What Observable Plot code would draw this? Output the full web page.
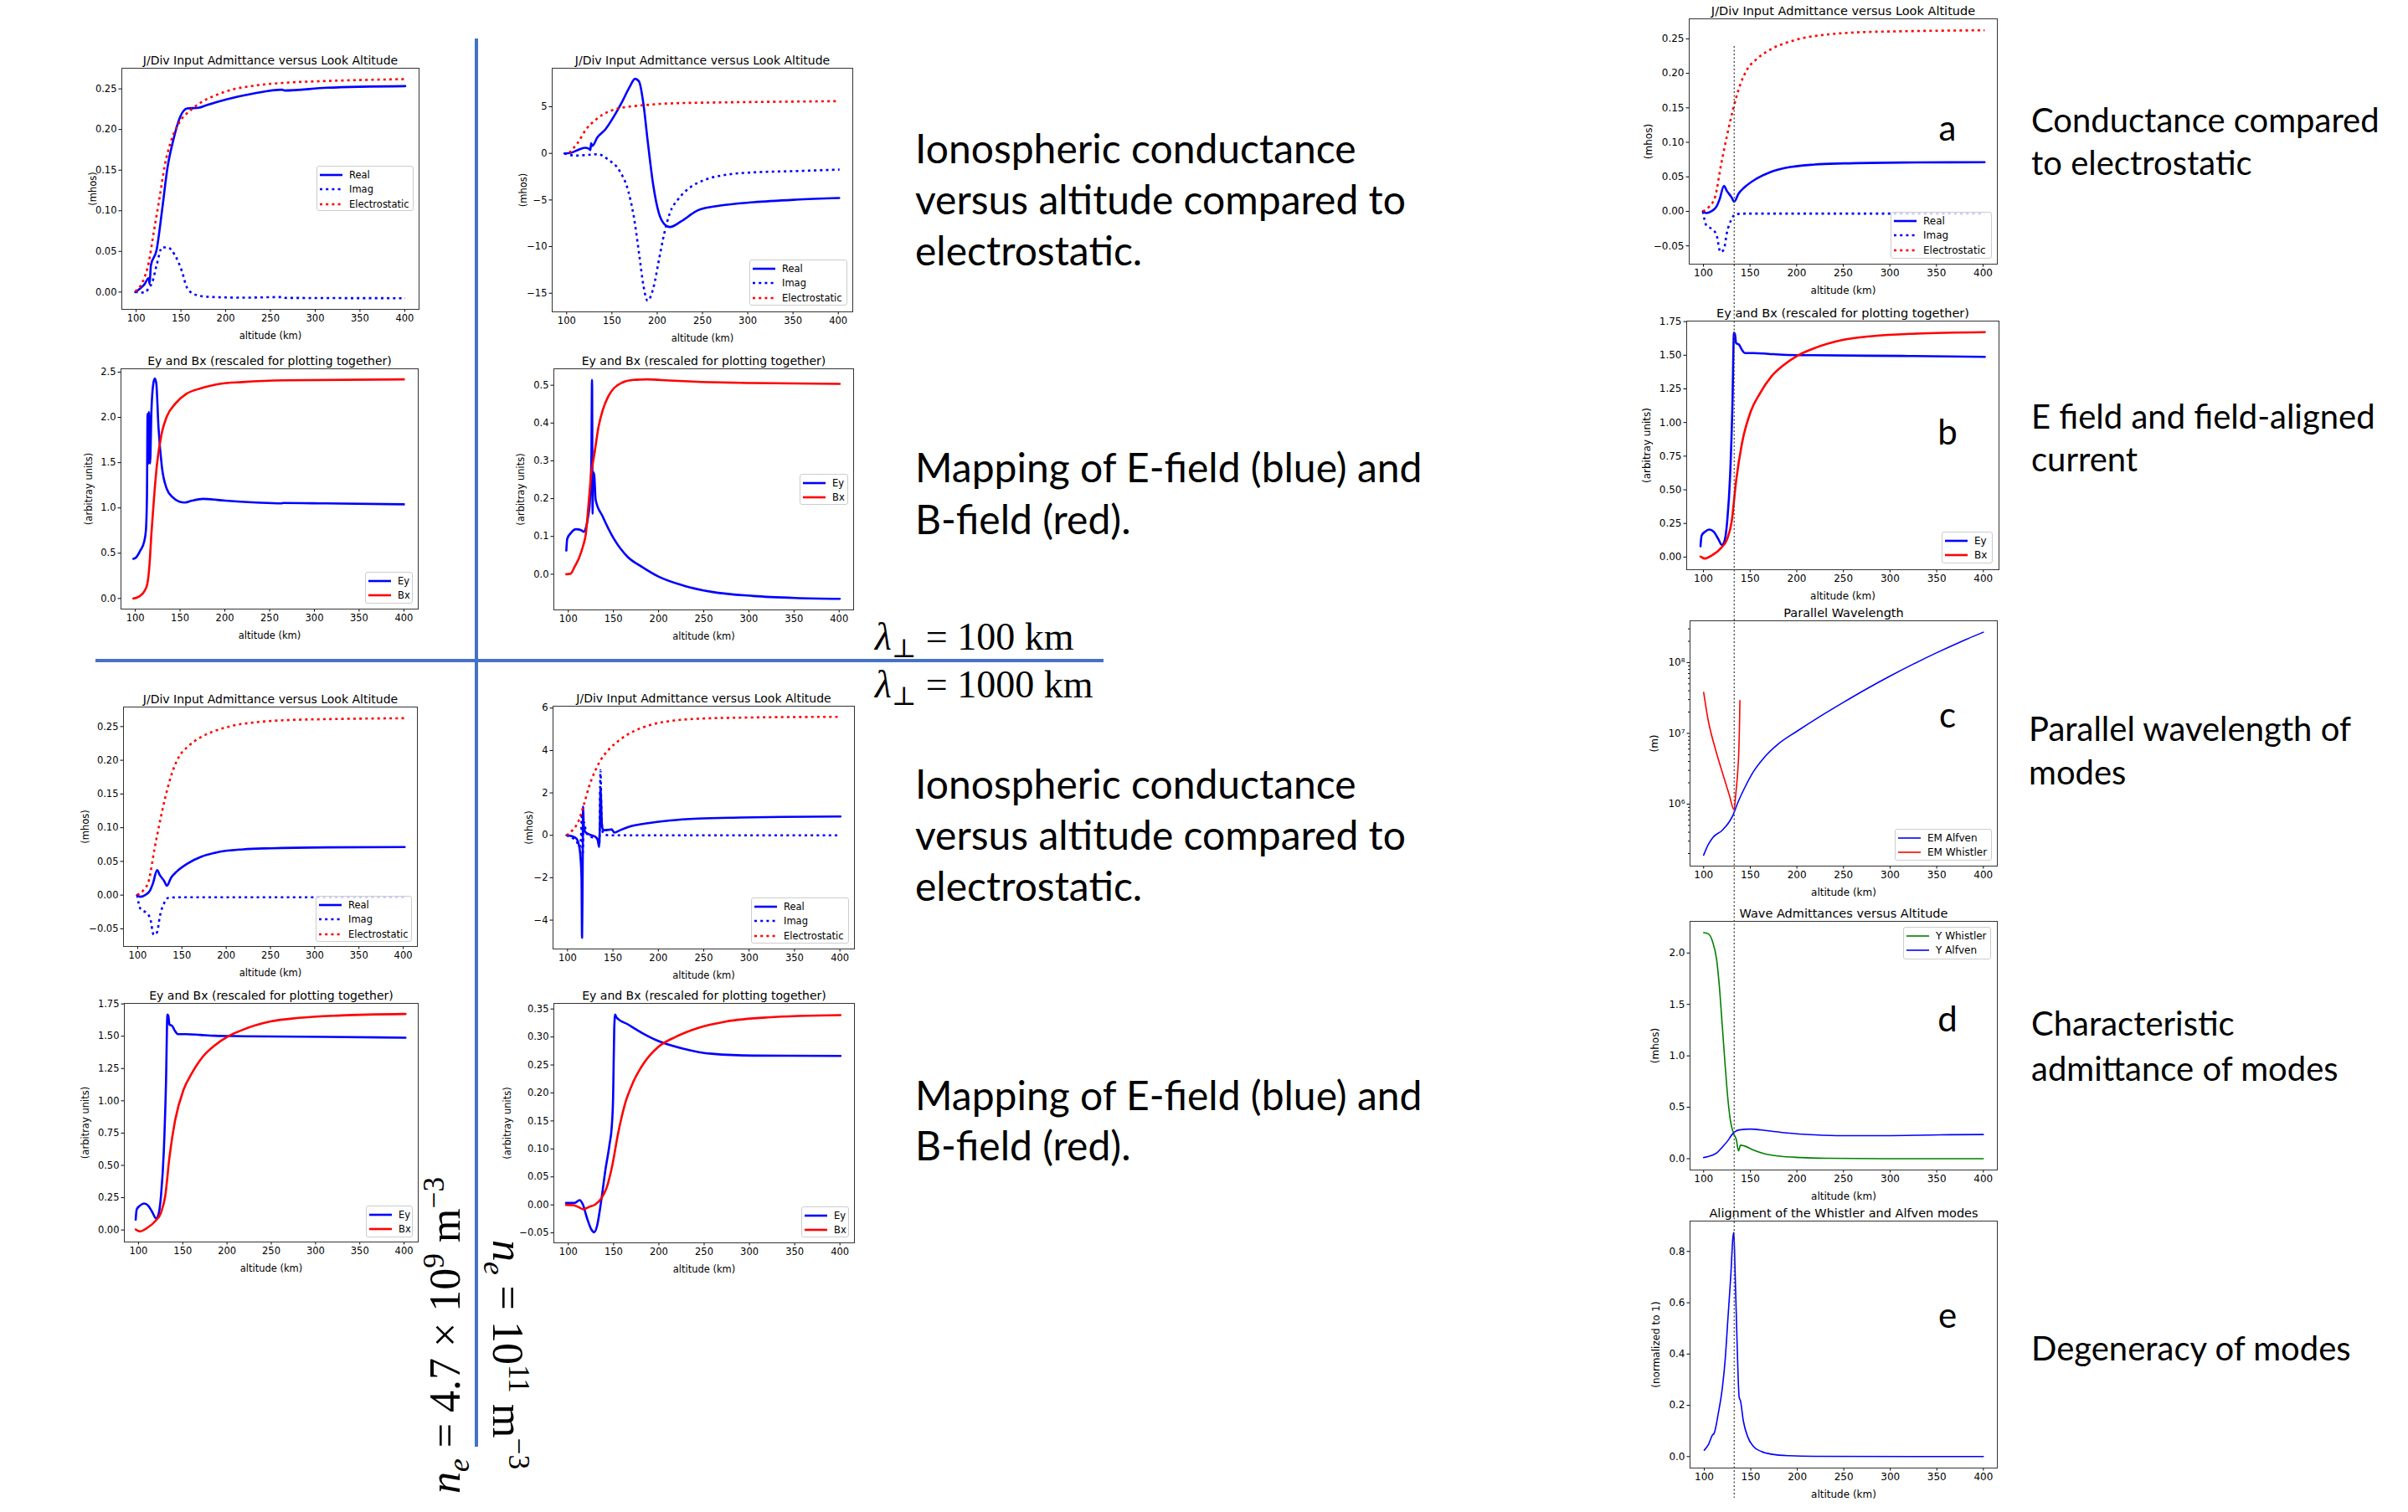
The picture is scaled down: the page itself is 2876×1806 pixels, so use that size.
<!DOCTYPE html>
<html><head><meta charset="utf-8">
<script src="https://cdn.jsdelivr.net/npm/d3@7"></script>
<script src="https://cdn.jsdelivr.net/npm/@observablehq/plot@0.6"></script>
<style>
html,body{margin:0;padding:0;background:#fff;}
#page{position:relative;width:2876px;height:1806px;overflow:hidden;background:#fff;}
.pnl{position:absolute;}
.pnl svg{display:block;max-width:none !important;}
.leg{position:absolute;box-sizing:border-box;background:rgba(255,255,255,0.8);border:1px solid #cccccc;border-radius:3px;font-family:"DejaVu Sans",sans-serif;font-size:11.5px;color:#000;padding-top:1px;}
.leg .row{display:flex;align-items:center;height:17.5px;padding-left:3px;white-space:nowrap;}
.leg svg{margin-right:8px;flex:none;}
.txt{position:absolute;font-family:Lato,"Open Sans",sans-serif;color:#000;white-space:nowrap;}
.math{position:absolute;font-family:"Liberation Serif","DejaVu Serif",serif;color:#000;white-space:nowrap;}
.sep{position:absolute;background:#4472c4;}
.sup{font-size:68%;position:relative;top:-0.55em;}
.sub{font-size:68%;position:relative;top:0.3em;}
</style></head><body><div id="page"></div>
<script>
// ---------------- DATA ----------------
const xTicks = [100, 150, 200, 250, 300, 350, 400];

// Top-left (λ=100 km, n_e=4.7e9): admittance
const p1Real = [[99,0],[104,0.004],[108.7,0.0086],[114,0.017],[115,0.010],[116.5,0.033],[122.8,0.0515],[129,0.101],[135,0.153],[141.5,0.187],[149.3,0.216],[157,0.226],[169.6,0.2267],[179,0.230],[200.8,0.237],[232,0.2445],[263,0.249],[266,0.248],[313,0.2514],[400.6,0.2534]];
const p1Imag = [[99,0],[110,-0.0007],[114,0.005],[118,0.012],[122.8,0.0326],[129,0.055],[135,0.055],[143,0.046],[151,0.026],[157,0.005],[166.5,-0.0034],[179,-0.0058],[219.6,-0.0069],[263,-0.0062],[266,-0.0072],[400.6,-0.0076]];
const p1Elec = [[99,0.0007],[107,0.012],[114,0.036],[119.7,0.074],[126,0.115],[132,0.156],[138.4,0.184],[147.8,0.208],[160,0.223],[172.7,0.2335],[188.4,0.242],[207,0.249],[232,0.254],[266,0.2575],[313,0.2597],[400.6,0.262]];
const p1Ticks = [0, 0.05, 0.10, 0.15, 0.20, 0.25];

// Top-middle: admittance
const p2Real = [[97.5,0],[104.6,0.06],[112.3,0.36],[120,0.6],[124.7,0.5],[126.2,0.36],[127,1.1],[128.3,0.8],[133.8,1.7],[143,2.6],[152.4,4.0],[161.6,5.6],[169.4,7.1],[175.6,8.0],[180,7.7],[184.8,5.3],[189.4,1.4],[195.6,-3.4],[201.8,-6.4],[208,-7.6],[214,-7.9],[226.4,-7.3],[245,-6.1],[269.5,-5.6],[306.6,-5.24],[353,-4.97],[401,-4.79]];
const p2Imag = [[97.5,0],[109.3,-0.24],[121.7,-0.18],[134,-0.09],[146.3,-0.7],[158.6,-1.9],[167.9,-4.0],[174,-6.7],[180.2,-10.9],[184.8,-14.2],[189.4,-15.8],[195.6,-14.5],[201.8,-11.5],[208,-8.5],[214,-6.4],[223.3,-4.9],[235.6,-3.7],[251,-2.9],[275.8,-2.3],[306.6,-2.04],[353,-1.9],[401.4,-1.74]];
const p2Elec = [[103,0.06],[112,1.1],[121.6,2.6],[130.8,3.5],[140,4.16],[152.4,4.7],[167.8,5.0],[183.3,5.15],[214,5.36],[260,5.45],[337,5.54],[401,5.6]];
const p2Ticks = [-15, -10, -5, 0, 5];

// Row 2 left: Ey, Bx
const p3Ey = [[97.8,0.438],[101,0.454],[105.6,0.53],[109.7,0.62],[111.8,0.75],[113,1.12],[113.7,2.04],[114.6,1.49],[115.3,2.06],[116.5,1.49],[118,2.07],[120.2,2.38],[121.8,2.43],[123.4,2.38],[125.9,1.89],[129.6,1.46],[135.2,1.21],[141.4,1.12],[149.2,1.07],[155.5,1.06],[163.2,1.08],[175.7,1.10],[200.6,1.08],[234.9,1.06],[262.9,1.05],[265.4,1.055],[312.8,1.05],[400,1.04]];
const p3Bx = [[97.8,0],[104,0.02],[110.3,0.083],[113.4,0.16],[115.9,0.38],[118,0.72],[121.2,1.15],[124.3,1.49],[129,1.8],[135.2,2.01],[144.5,2.15],[157,2.26],[172.6,2.32],[194.4,2.37],[219.3,2.39],[266,2.41],[400,2.42]];
const p3Ticks = [0, 0.5, 1.0, 1.5, 2.0, 2.5];

// Row 2 middle: Ey, Bx
const p4Ey = [[97.8,0.0627],[98.8,0.0937],[102.5,0.108],[108.6,0.119],[114.8,0.116],[117,0.112],[119.5,0.123],[122,0.153],[124,0.197],[125.6,0.315],[126.3,0.514],[126.9,0.16],[127.5,0.27],[128.7,0.263],[130.3,0.197],[138,0.153],[150.4,0.094],[165.8,0.0457],[181.2,0.02],[199.8,-0.006],[227.6,-0.030],[258.5,-0.0465],[304.8,-0.0575],[351.2,-0.0627],[400.6,-0.065]];
const p4Bx = [[97.8,0],[102.5,0.0015],[107,0.02],[111.7,0.042],[116.4,0.075],[119.5,0.108],[122.6,0.19],[125.6,0.27],[128.7,0.315],[133.4,0.389],[138,0.433],[144.2,0.47],[150.4,0.492],[159.6,0.507],[172,0.514],[187.4,0.5155],[212,0.5125],[243,0.509],[304.8,0.506],[400.6,0.5037]];
const p4Ticks = [0, 0.1, 0.2, 0.3, 0.4, 0.5];

// Row 3 left (also panel a): admittance
const p5Real = [[99.4,0],[103,-0.0025],[109.4,0.0008],[114,0.007],[117.3,0.0174],[122,0.037],[125,0.0298],[130,0.0207],[133,0.014],[137.7,0.0257],[144,0.0348],[156.5,0.047],[172,0.057],[188,0.063],[219.4,0.0679],[250.8,0.0695],[313.6,0.0708],[401.6,0.0712]];
const p5Imag = [[99.4,0],[103,-0.02],[109.4,-0.026],[114,-0.034],[118.2,-0.059],[122,-0.055],[125,-0.032],[130,-0.0116],[134.6,-0.0041],[144,-0.0033],[188,-0.0033],[401.6,-0.0033]];
const p5Elec = [[99.4,0],[106.3,0.007],[112.6,0.0215],[118.8,0.067],[125,0.108],[131.4,0.146],[139.3,0.183],[147,0.206],[156.5,0.220],[172,0.2347],[188,0.244],[207,0.2512],[235,0.2566],[266.5,0.2595],[313.6,0.261],[401.6,0.2624]];
const p5Ticks = [-0.05, 0, 0.05, 0.10, 0.15, 0.20, 0.25];

// Row 3 middle: admittance
const p6Real = [[98.8,0],[105.5,-0.05],[110,-0.16],[112.3,-0.42],[114.1,-0.95],[115.4,-2.0],[116,-4.83],[116.6,-2.0],[117.2,1.36],[117.8,0.5],[119.4,0.17],[124,0.04],[130,-0.05],[133.2,-0.22],[134.7,-0.55],[135.7,0.63],[136.3,2.28],[136.9,1.68],[138.1,0.37],[140,0.24],[145.5,0.26],[148.6,0.28],[151.6,0.13],[157.8,0.24],[170,0.43],[188.5,0.57],[213,0.70],[243.9,0.79],[290,0.84],[336,0.87],[400.6,0.89]];
const p6Imag = [[98.8,0],[105.5,-0.13],[110,-0.29],[113.2,-0.55],[114.8,-0.16],[115.7,1.03],[116.6,-0.95],[117.8,0.63],[120.9,0.1],[127,-0.09],[133.2,-0.16],[135,-0.36],[136.3,3.07],[137.5,0.76],[139.3,0.1],[145.5,0],[400.6,0]];
const p6Elec = [[98.8,0],[105.5,0.24],[111.7,0.63],[117.8,1.42],[124,2.34],[130,3.0],[136.3,3.53],[145.5,4.05],[157.8,4.51],[173,4.91],[191.6,5.21],[213,5.39],[243.9,5.5],[290,5.55],[400.6,5.59]];
const p6Ticks = [-4, -2, 0, 2, 4, 6];

// Row 4 left (also panel b): Ey, Bx
const p7Ey = [[96.8,0.08],[98,0.16],[101.6,0.188],[106.3,0.205],[111,0.188],[115.9,0.134],[119.7,0.09],[122.2,0.112],[125.4,0.263],[128.6,0.61],[131.1,1.15],[132.7,1.668],[133.7,1.657],[135,1.59],[138,1.58],[141.3,1.54],[144.4,1.516],[154,1.516],[169.8,1.51],[185.7,1.504],[217.5,1.5],[312.7,1.495],[401.6,1.488]];
const p7Bx = [[96.8,0.004],[101.6,-0.011],[109.5,0.015],[119,0.069],[125.4,0.134],[130.2,0.263],[135,0.566],[141.3,0.847],[150.8,1.084],[160.3,1.214],[173,1.344],[185.7,1.426],[201.6,1.5],[217.5,1.549],[249.2,1.614],[281,1.642],[328.6,1.661],[401.6,1.672]];
const p7Ticks = [0, 0.25, 0.5, 0.75, 1.0, 1.25, 1.5, 1.75];

// Row 4 middle: Ey, Bx
const p8Ey = [[97.5,0.0035],[106.8,0.0035],[112.4,0.0085],[116,0.001],[120.7,-0.024],[125.4,-0.0439],[128.5,-0.0489],[131.5,-0.039],[136.2,0.006],[140.8,0.0608],[145.5,0.108],[148,0.1406],[149.5,0.1954],[150.7,0.315],[151.7,0.34],[153.2,0.335],[165.6,0.3226],[181,0.3076],[199.6,0.2927],[227.4,0.279],[258.4,0.27],[304.8,0.2667],[400.6,0.2662]];
const p8Bx = [[97.5,0],[105.3,-0.0005],[111.4,-0.004],[116.7,-0.008],[122.3,-0.004],[130,0.001],[136.2,0.011],[142.4,0.031],[148.6,0.0708],[154.7,0.1256],[162.5,0.18],[171.8,0.22],[184.1,0.255],[199.6,0.2827],[218.2,0.30],[242.9,0.316],[273.8,0.3276],[320.2,0.335],[400.6,0.339]];
const p8Ticks = [-0.05, 0, 0.05, 0.10, 0.15, 0.20, 0.25, 0.30, 0.35];

// Panel c: parallel wavelength (m)
const cAlfven = [[100,1.9e5],[105,2.69e5],[110,3.39e5],[120,4.27e5],[128,5.75e5],[132,7.24e5],[136,1.0e6],[140,1.32e6],[144,1.7e6],[153,2.82e6],[165,4.57e6],[180,7.08e6],[200,1.07e7],[225,1.74e7],[250,2.75e7],[275,4.27e7],[300,6.46e7],[325,9.55e7],[350,1.38e8],[375,1.95e8],[400,2.69e8]];
const cWhistler = [[100,3.8e7],[104.5,1.62e7],[112.6,6.0e6],[120,2.82e6],[127.5,1.35e6],[132.6,8.3e5],[134.5,1.4e6],[136.5,2.8e6],[137.7,5.5e6],[138.4,1.2e7],[138.9,2.9e7]];
const cTicks = [1e6, 1e7, 1e8];
const cMinor = [2e5,3e5,4e5,5e5,6e5,7e5,8e5,9e5,2e6,3e6,4e6,5e6,6e6,7e6,8e6,9e6,2e7,3e7,4e7,5e7,6e7,7e7,8e7,9e7,2e8,3e8];

// Panel d: wave admittances (mhos)
const dWhistler = [[100,2.198],[105,2.187],[109.6,2.11],[114,1.93],[117,1.66],[120,1.29],[123,0.916],[126,0.58],[129,0.355],[132.6,0.235],[135,0.187],[137.4,0.075],[139.5,0.131],[144,0.123],[153,0.086],[165,0.049],[180,0.026],[204,0.011],[234,0.004],[294,0.0],[400,0]];
const dAlfven = [[100,0.011],[108,0.03],[114,0.056],[120,0.112],[126,0.176],[130.5,0.235],[133.5,0.262],[138,0.28],[150,0.288],[168,0.273],[189,0.25],[219,0.232],[249,0.224],[294,0.224],[354,0.232],[400,0.235]];
const dTicks = [0, 0.5, 1.0, 1.5, 2.0];

// Panel e: alignment of the modes
const eAlign = [[100,0.025],[104.5,0.047],[109,0.085],[110.5,0.09],[115,0.167],[119.5,0.27],[122.5,0.379],[125.5,0.542],[128.5,0.705],[130.9,0.858],[131.8,0.874],[133,0.738],[135.1,0.466],[137.5,0.232],[139,0.216],[142,0.139],[146.5,0.079],[152.5,0.041],[161.5,0.0196],[173.5,0.0087],[191.5,0.0033],[218.5,0.001],[400,0]];
const eTicks = [0, 0.2, 0.4, 0.6, 0.8];

const alignAltitude = [133];

// ---------------- HELPERS ----------------
const page = document.getElementById("page");
function div(cls, style, html) {
  const d = document.createElement("div");
  d.className = cls;
  Object.assign(d.style, style);
  if (html != null) d.innerHTML = html;
  page.appendChild(d);
  return d;
}
const BLUE = "#0000ff", RED = "#ff0000", GREEN = "#008000";
const DOT = "3,4.2";
const f2 = d3.format(".2f"), f1 = d3.format(".1f"), f0 = d3.format("d");
const supDigits = {"0":"⁰","1":"¹","2":"²","3":"³","4":"⁴","5":"⁵","6":"⁶","7":"⁷","8":"⁸","9":"⁹"};
const fLog = v => "10" + String(Math.round(Math.log10(v))).split("").map(c => supDigits[c]).join("");

const TITLE_ADM = "J/Div Input Admittance versus Look Altitude";
const TITLE_EB = "Ey and Bx (rescaled for plotting together)";

function admSeries(real, imag, elec, w) {
  return [
    {data: real, color: BLUE, width: w},
    {data: imag, color: BLUE, width: w, dash: DOT},
    {data: elec, color: RED, width: w, dash: DOT}
  ];
}
function ebSeries(ey, bx, w) {
  return [{data: ey, color: BLUE, width: w}, {data: bx, color: RED, width: w}];
}
const admLegend = w => [
  {label: "Real", color: BLUE, width: w},
  {label: "Imag", color: BLUE, width: w, dash: DOT},
  {label: "Electrostatic", color: RED, width: w, dash: DOT}
];
const ebLegend = w => [{label: "Ey", color: BLUE, width: w}, {label: "Bx", color: RED, width: w}];

function legend(box, items, fs) {
  const d = div("leg", {left: box[0] + "px", top: box[1] + "px", width: (box[2] - box[0]) + "px", height: (box[3] - box[1]) + "px"});
  if (fs) d.style.fontSize = fs + "px";
  for (const it of items) {
    const r = document.createElement("div");
    r.className = "row";
    r.innerHTML = `<svg width="27" height="6"><line x1="0" y1="3" x2="27" y2="3" stroke="${it.color}" stroke-width="${it.width}" ${it.dash ? `stroke-dasharray="${it.dash}"` : ""}/></svg><span>${it.label}</span>`;
    d.appendChild(r);
  }
}

function panel(c) {
  const ML = 72, MR = 14, MT = 32, MB = 44;
  const marks = [];
  for (const s of c.series) {
    marks.push(Plot.line(s.data, {
      x: d => d[0], y: d => d[1], stroke: s.color, strokeWidth: s.width,
      strokeDasharray: s.dash, strokeLinecap: s.dash ? "butt" : "round", curve: "monotone-x"
    }));
  }
  if (c.minor) {
    marks.push(Plot.axisY(c.yt, {tickFormat: c.yf, tickSize: 3.5, tickPadding: 2.5, label: c.ylabel, labelAnchor: "center", labelOffset: c.yoff + 6, labelArrow: false}));
    marks.push(Plot.axisY(c.minor, {tickSize: 2, tickFormat: () => "", label: null}));
  }
  marks.push(Plot.frame({stroke: "#333", strokeWidth: 1}));
  marks.push(Plot.text([c.title], {text: d => d, frameAnchor: "top", lineAnchor: "bottom", dy: -5, fontSize: c.titleSize || 14, fill: "#000"}));
  const yOpts = {
    domain: c.yd, ticks: c.yt, tickFormat: c.yf, tickSize: 3.5, tickPadding: 2.5,
    label: c.ylabel, labelAnchor: "center", labelOffset: c.yoff + 6, labelArrow: false
  };
  if (c.log) yOpts.type = "log";
  const svg = Plot.plot({
    width: ML + c.W + MR, height: MT + c.H + MB,
    marginLeft: ML, marginRight: MR, marginTop: MT, marginBottom: MB,
    style: {fontFamily: "'DejaVu Sans', sans-serif", fontSize: (c.fs || 11.5) + "px", background: "transparent", overflow: "visible", color: "#000"},
    x: {domain: c.xd, ticks: xTicks, tickFormat: f0, tickSize: 3.5, tickPadding: 2.5, label: "altitude (km)", labelAnchor: "center", labelOffset: 35, labelArrow: false},
    y: yOpts,
    marks
  });
  const holder = div("pnl", {left: (c.L - ML) + "px", top: (c.T - MT) + "px"});
  holder.appendChild(svg);
  if (c.legend) legend(c.legend.box, c.legend.items, c.legend.fs);
}

// ---------------- LEFT GRID ----------------
const LX = [84, 416];
panel({L:145, T:81, W:355, H:288, xd:LX, yd:[-0.0213, 0.2754], yt:p1Ticks, yf:f2, title:TITLE_ADM, ylabel:"(mhos)", yoff:33,
  series: admSeries(p1Real, p1Imag, p1Elec, 2.6), legend:{box:[378,198,494,252], items:admLegend(2.6)}});
panel({L:659, T:81, W:359, H:291, xd:LX, yd:[-17.0, 9.13], yt:p2Ticks, yf:f0, title:TITLE_ADM, ylabel:"(mhos)", yoff:33,
  series: admSeries(p2Real, p2Imag, p2Elec, 2.6), legend:{box:[895,310,1012,365], items:admLegend(2.6)}});
panel({L:144, T:440, W:355, H:287, xd:LX, yd:[-0.117, 2.537], yt:p3Ticks, yf:f1, title:TITLE_EB, ylabel:"(arbitray units)", yoff:37,
  series: ebSeries(p3Ey, p3Bx, 2.6), legend:{box:[436,683,493,721], items:ebLegend(2.6)}});
panel({L:661, T:440, W:358, H:288, xd:LX, yd:[-0.0944, 0.5435], yt:p4Ticks, yf:f1, title:TITLE_EB, ylabel:"(arbitray units)", yoff:38,
  series: ebSeries(p4Ey, p4Bx, 2.6), legend:{box:[955,566,1013,603], items:ebLegend(2.6)}});
panel({L:147, T:844, W:351, H:286, xd:LX, yd:[-0.0762, 0.279], yt:p5Ticks, yf:f2, title:TITLE_ADM, ylabel:"(mhos)", yoff:44,
  series: admSeries(p5Real, p5Imag, p5Elec, 2.6), legend:{box:[377,1070,492,1125], items:admLegend(2.6)}});
panel({L:660, T:843, W:360, H:290, xd:LX, yd:[-5.36, 6.09], yt:p6Ticks, yf:f0, title:TITLE_ADM, ylabel:"(mhos)", yoff:27,
  series: admSeries(p6Real, p6Imag, p6Elec, 2.6), legend:{box:[897,1072,1014,1127], items:admLegend(2.6)}});
panel({L:148, T:1198, W:351, H:285, xd:LX, yd:[-0.093, 1.754], yt:p7Ticks, yf:f2, title:TITLE_EB, ylabel:"(arbitray units)", yoff:45,
  series: ebSeries(p7Ey, p7Bx, 2.6), legend:{box:[437,1440,493,1478], items:ebLegend(2.6)}});
panel({L:661, T:1198, W:359, H:286, xd:LX, yd:[-0.0678, 0.36], yt:p8Ticks, yf:f2, title:TITLE_EB, ylabel:"(arbitray units)", yoff:54,
  series: ebSeries(p8Ey, p8Bx, 2.6), legend:{box:[957,1441,1014,1478], items:ebLegend(2.6)}});

// ---------------- RIGHT COLUMN ----------------
panel({L:2017, T:22, W:368, H:293, xd:[84.7, 415.3], yd:[-0.0765, 0.279], yt:p5Ticks, yf:f2, title:TITLE_ADM, ylabel:"(mhos)", yoff:47, fs:12, titleSize:14.5,
  series: admSeries(p5Real, p5Imag, p5Elec, 2.6), legend:{box:[2258,253,2379,309], items:admLegend(2.6), fs:12}});
panel({L:2014, T:383, W:373, H:297, xd:[82, 416.8], yd:[-0.094, 1.754], yt:p7Ticks, yf:f2, title:TITLE_EB, ylabel:"(arbitray units)", yoff:46, fs:12, titleSize:14.5,
  series: ebSeries(p7Ey, p7Bx, 2.6), legend:{box:[2319,635,2380,673], items:ebLegend(2.6), fs:12}});
panel({L:2018, T:741, W:367, H:293, xd:[85.4, 415], yd:[1.33e5, 3.9e8], log:true, yt:cTicks, yf:fLog, minor:cMinor, title:"Parallel Wavelength", ylabel:"(m)", yoff:41, fs:12, titleSize:14.5,
  series: [{data:cAlfven, color:BLUE, width:1.6}, {data:cWhistler, color:RED, width:1.6}],
  legend:{box:[2263,990,2379,1028], items:[{label:"EM Alfven", color:BLUE, width:1.6}, {label:"EM Whistler", color:RED, width:1.6}], fs:12}});
panel({L:2018, T:1100, W:367, H:297, xd:[85.4, 415], yd:[-0.11, 2.308], yt:dTicks, yf:f1, title:"Wave Admittances versus Altitude", ylabel:"(mhos)", yoff:40, fs:12, titleSize:14.5,
  series: [{data:dWhistler, color:GREEN, width:1.6}, {data:dAlfven, color:BLUE, width:1.6}],
  legend:{box:[2273,1107,2378,1146], items:[{label:"Y Whistler", color:GREEN, width:1.6}, {label:"Y Alfven", color:BLUE, width:1.6}], fs:12}});
panel({L:2018, T:1458, W:367, H:295, xd:[84.7, 415], yd:[-0.0447, 0.9185], yt:eTicks, yf:f1, title:"Alignment of the Whistler and Alfven modes", ylabel:"(normalized to 1)", yoff:39, fs:12, titleSize:14.5,
  series: [{data:eAlign, color:BLUE, width:1.6}]});

// vertical alignment marker across right column
{
  const vl = Plot.plot({
    width: 368, height: 1734, margin: 0,
    x: {domain: [84.7, 415.3], axis: null},
    style: {background: "transparent", overflow: "visible"},
    marks: [Plot.ruleX(alignAltitude, {stroke: "#444", strokeWidth: 1.3, strokeDasharray: "2,2.5"})]
  });
  const h = div("pnl", {left: "2017px", top: "55px", pointerEvents: "none", zIndex: 5});
  h.appendChild(vl);
}

// panel letters
const letters = [["a", 152], ["b", 515], ["c", 853], ["d", 1216], ["e", 1570]];
for (const [t, y] of letters) div("txt", {left: "2326px", top: y + "px", fontSize: "42px", transform: "translate(-50%,-50%)", lineHeight: "1"}, t);

// ---------------- SEPARATORS & LABELS ----------------
div("sep", {left: "567px", top: "46px", width: "4px", height: "1682px"});
div("sep", {left: "114px", top: "787px", width: "1204px", height: "4px"});

div("math", {left: "1045px", top: "761px", fontSize: "46px", transform: "translateY(-50%)", lineHeight: "1"},
  `<i>λ</i><span class="sub">⊥</span> = 100 km`);
div("math", {left: "1045px", top: "818px", fontSize: "46px", transform: "translateY(-50%)", lineHeight: "1"},
  `<i>λ</i><span class="sub">⊥</span> = 1000 km`);
div("math", {left: "532px", top: "1595px", fontSize: "52px", transform: "translate(-50%,-50%) rotate(-90deg)", lineHeight: "1"},
  `<i>n</i><span class="sub"><i>e</i></span> = 4.7 × 10<span class="sup">9</span> m<span class="sup">−3</span>`);
div("math", {left: "606px", top: "1618px", fontSize: "52px", transform: "translate(-50%,-50%) rotate(90deg)", lineHeight: "1"},
  `<i>n</i><span class="sub"><i>e</i></span> = 10<span class="sup">11</span> m<span class="sup">−3</span>`);

// descriptive text
const midLines1 = ["Ionospheric conductance", "versus altitude compared to", "electrostatic."];
const midLines2 = ["Mapping of E-field (blue) and", "B-field (red)."];
function block(x, yTop, lines, fs, lh) {
  div("txt", {left: x + "px", top: yTop + "px", fontSize: fs + "px", lineHeight: lh + "px"}, lines.join("<br>"));
}
block(1093, 145.5, midLines1, 48, 61);
block(1093, 527, midLines2, 48, 62);
block(1093, 904.5, midLines1, 48, 61);
block(1093, 1278, midLines2, 48, 60);

block(2426, 118, ["Conductance compared", "to electrostatic"], 40, 51);
block(2426, 472, ["E field and field-aligned", "current"], 40, 51);
block(2423, 844, ["Parallel wavelength of", "modes"], 40, 52);
block(2426, 1195, ["Characteristic", "admittance of modes"], 40, 54);
block(2426, 1585, ["Degeneracy of modes"], 40, 51);
</script></body></html>
